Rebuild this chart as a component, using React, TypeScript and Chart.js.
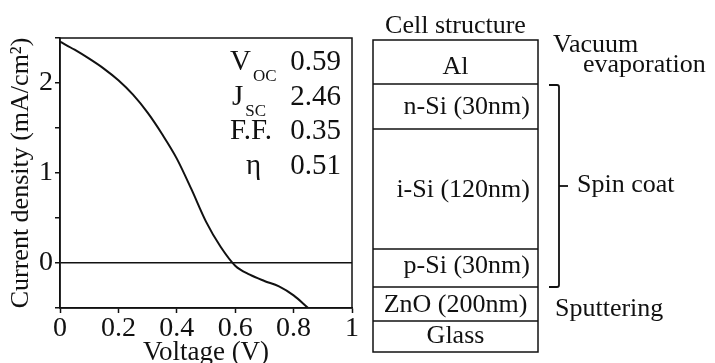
import { useEffect, useRef } from 'react';
import { Chart, registerables } from 'chart.js';

Chart.register(...registerables);

// ---- data ----
const voltage = [0, 0.05, 0.1, 0.15, 0.2, 0.25, 0.3, 0.35, 0.4, 0.45, 0.5, 0.55, 0.6, 0.65, 0.7, 0.75, 0.8, 0.85];
const currentDensity = [2.46, 2.37, 2.27, 2.16, 2.03, 1.87, 1.67, 1.43, 1.16, 0.82, 0.46, 0.18, -0.03, -0.13, -0.2, -0.26, -0.36, -0.5];
const xTickValues = [0, 0.2, 0.4, 0.6, 0.8, 1];
const yLabeledTicks = [0, 1, 2];

const paramNames = ['V', 'J', 'F.F.', 'η'];
const paramSubs = ['OC', 'SC', '', ''];
const paramValues = ['0.59', '2.46', '0.35', '0.51'];

const layerNames = ['Al', 'n-Si (30nm)', 'i-Si (120nm)', 'p-Si (30nm)', 'ZnO (200nm)', 'Glass'];
const processNames = ['Vacuum\nevaporation', 'Spin coat', 'Sputtering'];
const panelTitle = 'Cell structure';
const xTitle = 'Voltage (V)';
const yTitle = 'Current density (mA/cm²)';

// ---- layout / style ----
const SERIF = "'Liberation Serif', 'Times New Roman', serif";
const INK = '#111';
const LINE = '#111';

const PARAM_X = [230, 232, 230, 246];
const PARAM_BASE0 = 70;
const PARAM_STEP = 34.5;

const BOX_LEFT = 373;
const BOX_RIGHT = 538;
const LAYER_EDGES = [40, 84, 129, 249, 287, 321, 352];
const LAYER_ALIGN = ['center', 'right', 'right', 'right', 'center', 'center'];
const LAYER_BASELINES = [74, 114, 197, 273, 312, 343];
const PROCESS_LINES = [
  [{ x: 553, y: 52 }, { x: 583, y: 72 }],
  [{ x: 577, y: 192 }],
  [{ x: 555, y: 316 }],
];

const extrasPlugin = {
  id: 'extras',
  afterDraw(chart: any) {
    const ctx: CanvasRenderingContext2D = chart.ctx;
    const { left, right, top, bottom } = chart.chartArea;
    ctx.save();
    // plot frame
    ctx.strokeStyle = LINE;
    ctx.lineWidth = 1.5;
    ctx.strokeRect(left, top, right - left, bottom - top);

    // parameters
    ctx.fillStyle = INK;
    ctx.textBaseline = 'alphabetic';
    paramNames.forEach((name, i) => {
      const base = PARAM_BASE0 + i * PARAM_STEP;
      ctx.font = `29px ${SERIF}`;
      ctx.textAlign = 'left';
      ctx.fillText(name, PARAM_X[i], base);
      const w = ctx.measureText(name).width;
      if (paramSubs[i]) {
        ctx.font = `17px ${SERIF}`;
        ctx.fillText(paramSubs[i], PARAM_X[i] + w + 2, base + 11);
      }
      ctx.font = `29px ${SERIF}`;
      ctx.textAlign = 'right';
      ctx.fillText(paramValues[i], right - 11, base);
    });

    // cell structure
    const cx = (BOX_LEFT + BOX_RIGHT) / 2;
    ctx.font = `26px ${SERIF}`;
    ctx.textAlign = 'center';
    ctx.fillText(panelTitle, cx, 33);
    ctx.strokeStyle = LINE;
    ctx.lineWidth = 1.5;
    ctx.strokeRect(BOX_LEFT, LAYER_EDGES[0], BOX_RIGHT - BOX_LEFT, LAYER_EDGES[LAYER_EDGES.length - 1] - LAYER_EDGES[0]);
    for (let i = 1; i < LAYER_EDGES.length - 1; i++) {
      ctx.beginPath();
      ctx.moveTo(BOX_LEFT, LAYER_EDGES[i]);
      ctx.lineTo(BOX_RIGHT, LAYER_EDGES[i]);
      ctx.stroke();
    }
    layerNames.forEach((name, i) => {
      if (LAYER_ALIGN[i] === 'center') {
        ctx.textAlign = 'center';
        ctx.fillText(name, cx, LAYER_BASELINES[i]);
      } else {
        ctx.textAlign = 'right';
        ctx.fillText(name, BOX_RIGHT - 8, LAYER_BASELINES[i]);
      }
    });

    // bracket for spin coat (n-Si .. p-Si)
    const bx = 559;
    const by0 = LAYER_EDGES[1] + 1;
    const by1 = LAYER_EDGES[4];
    ctx.lineWidth = 1.8;
    ctx.beginPath();
    ctx.moveTo(549, by0);
    ctx.lineTo(bx - 2, by0);
    ctx.quadraticCurveTo(bx, by0, bx, by0 + 2);
    ctx.lineTo(bx, by1 - 2);
    ctx.quadraticCurveTo(bx, by1, bx - 2, by1);
    ctx.lineTo(549, by1);
    ctx.stroke();
    ctx.beginPath();
    ctx.moveTo(bx, 186);
    ctx.lineTo(568, 186);
    ctx.stroke();

    // process labels
    ctx.textAlign = 'left';
    ctx.font = `26px ${SERIF}`;
    processNames.forEach((p, i) => {
      p.split('\n').forEach((line, j) => {
        const pos = PROCESS_LINES[i][j];
        ctx.fillText(line, pos.x, pos.y);
      });
    });
    ctx.restore();
  },
};

export default function App() {
  const ref = useRef<HTMLCanvasElement | null>(null);
  useEffect(() => {
    document.body.style.margin = '0';
    const canvas = ref.current!;
    const chart = new Chart(canvas, {
      type: 'scatter',
      data: {
        datasets: [
          {
            data: voltage.map((v, i) => ({ x: v, y: currentDensity[i] })),
            showLine: true,
            borderColor: LINE,
            borderWidth: 2,
            pointRadius: 0,
            cubicInterpolationMode: 'monotone',
          } as any,
        ],
      },
      options: {
        responsive: false,
        animation: false,
        devicePixelRatio: 1,
        layout: { padding: { left: 0, top: 38, right: 363, bottom: 0 } },
        plugins: { legend: { display: false }, tooltip: { enabled: false } },
        scales: {
          x: {
            type: 'linear',
            min: 0,
            max: 1,
            afterFit: (s: any) => { s.height = 55; },
            afterBuildTicks: (s: any) => { s.ticks = xTickValues.map((v) => ({ value: v })); },
            ticks: {
              color: INK,
              padding: 2,
              font: { family: SERIF, size: 28, lineHeight: 1 },
              callback: (v: any) => String(v),
            },
            grid: { drawOnChartArea: false, drawTicks: true, tickLength: 5, tickColor: LINE, tickWidth: 1.5 },
            border: { display: true, color: LINE, width: 1.5 },
            title: {
              display: true,
              text: xTitle,
              color: INK,
              font: { family: SERIF, size: 27, lineHeight: 0.76 },
              padding: { top: 0, bottom: 0 },
            },
          },
          y: {
            type: 'linear',
            min: -0.5,
            max: 2.5,
            afterFit: (s: any) => { s.width = 60; },
            ticks: {
              stepSize: 0.5,
              color: INK,
              padding: 2,
              font: { family: SERIF, size: 28, lineHeight: 1 },
              callback: (v: any) => (yLabeledTicks.includes(Number(v)) ? String(v) : ''),
            },
            grid: {
              drawOnChartArea: true,
              drawTicks: true,
              tickLength: 5,
              tickColor: LINE,
              tickWidth: 1.5,
              lineWidth: 1.5,
              color: (c: any) => (c.tick && c.tick.value === 0 ? LINE : 'rgba(0,0,0,0)'),
            },
            border: { display: true, color: LINE, width: 1.5 },
            title: {
              display: true,
              text: yTitle,
              color: INK,
              font: { family: SERIF, size: 26, lineHeight: 1 },
              padding: { top: 8, bottom: 0 },
            },
          },
        },
      },
      plugins: [extrasPlugin],
    });
    return () => chart.destroy();
  }, []);
  return <canvas ref={ref} width={715} height={363} style={{ display: 'block', width: 715, height: 363 }} />;
}
